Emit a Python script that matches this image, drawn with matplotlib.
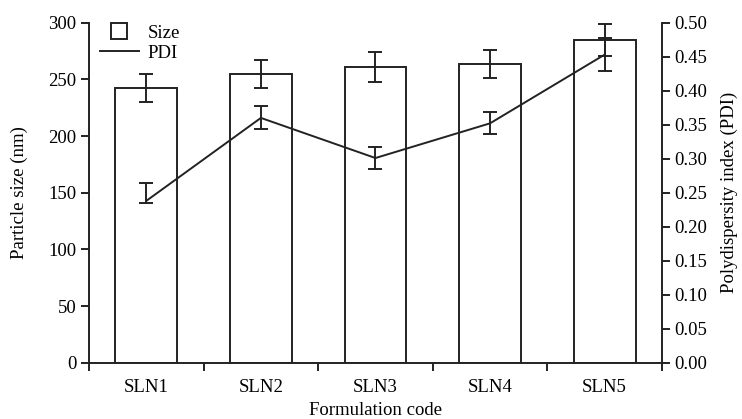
import matplotlib
matplotlib.use("Agg")
import matplotlib.pyplot as plt
from matplotlib.lines import Line2D
import numpy as np

categories = ["SLN1", "SLN2", "SLN3", "SLN4", "SLN5"]
size_nm = [242.5, 254.6, 261, 263.4, 284.6]
size_err = [12.3, 12.5, 13, 12.6, 14]
pdi = [0.238, 0.360, 0.301, 0.352, 0.453]
pdi_err_low = [0.003, 0.016, 0.0155, 0.015, 0.024]
pdi_err_high = [0.026, 0.018, 0.0155, 0.017, 0.024]

plt.rcParams['font.family'] = ['Liberation Serif', 'DejaVu Serif']
plt.rcParams['font.size'] = 13.5

fig = plt.figure(figsize=(7.42, 4.19), dpi=100)
ax = fig.add_axes([0.12, 0.1344, 0.772, 0.8114])
x = np.arange(len(categories))

ax.bar(x, size_nm, width=0.54, color='white', edgecolor='#222222', linewidth=1.4, zorder=2)
ax.errorbar(x, size_nm, yerr=size_err, fmt='none', ecolor='#222222', elinewidth=1.4,
            capsize=4.7, capthick=1.4, zorder=3)
ax.set_xlim(-0.5, len(categories) - 0.5)
ax.set_ylim(0, 300)
ax.set_yticks(np.arange(0, 301, 50))
ax.set_xticks(x)
ax.set_xticklabels(categories)
ax.set_xticks(np.arange(-0.5, len(categories), 1), minor=True)
ax.tick_params(axis='x', which='major', length=0, pad=12)
ax.tick_params(axis='x', which='minor', length=6, width=1.4, color='#222222')
ax.tick_params(axis='y', length=6, width=1.4, pad=3, color='#222222')
for s in ['top', 'right']:
    ax.spines[s].set_visible(False)
for s in ['left', 'bottom']:
    ax.spines[s].set_linewidth(1.4)
    ax.spines[s].set_color('#222222')
ax.set_ylabel("Particle size (nm)", labelpad=15)
ax.set_xlabel("Formulation code", labelpad=4)

ax2 = ax.twinx()
ax2.plot(x, pdi, color='#222222', linewidth=1.4, zorder=4)
ax2.errorbar(x, pdi, yerr=[pdi_err_low, pdi_err_high], fmt='none', ecolor='#222222',
             elinewidth=1.4, capsize=4.7, capthick=1.4, zorder=4)
ax2.set_ylim(0, 0.5)
ax2.set_yticks(np.arange(0, 0.501, 0.05))
ax2.set_yticklabels([f"{v:.2f}" for v in np.arange(0, 0.501, 0.05)])
ax2.tick_params(axis='y', length=6, width=1.4, pad=3, color='#222222')
for s in ['top', 'left', 'bottom']:
    ax2.spines[s].set_visible(False)
ax2.spines['right'].set_linewidth(1.4)
ax2.spines['right'].set_color('#222222')
ax2.set_ylabel("Polydispersity index (PDI)", labelpad=10)

handles = [Line2D([], [], marker='s', markersize=11, markerfacecolor='white',
                  markeredgecolor='#222222', markeredgewidth=1.4, linestyle='none'),
           Line2D([], [], color='#222222', linewidth=1.4)]
ax.legend(handles, ["Size", "PDI"], loc='upper left', bbox_to_anchor=(0.012, 1.005),
          frameon=False, handlelength=2.1, handletextpad=0.45, labelspacing=0.15,
          borderaxespad=0, borderpad=0.2)

fig.savefig("out.png", dpi=100)
